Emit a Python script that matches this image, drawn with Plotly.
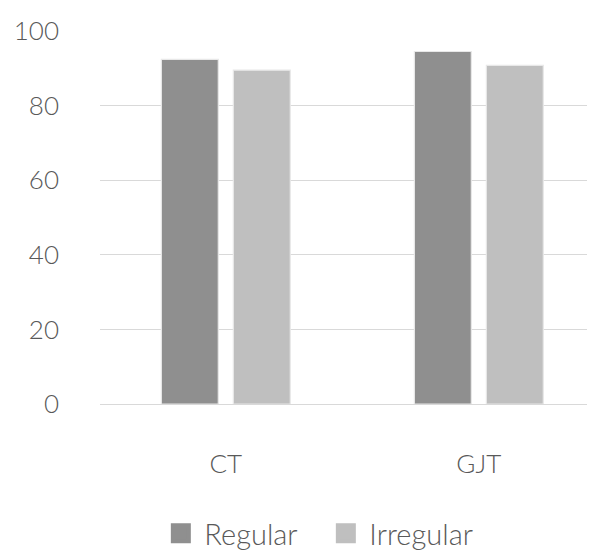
import plotly.graph_objects as go

categories = ["CT", "GJT"]
regular = [92.4, 94.5]
irregular = [89.5, 90.8]
y_ticks = [0, 20, 40, 60, 80, 100]

REG_COLOR = "#8F8F8F"
IRR_COLOR = "#BFBFBF"

fig = go.Figure()
fig.add_trace(go.Bar(
    name="Regular", x=categories, y=regular, showlegend=False,
    marker=dict(color=REG_COLOR, line=dict(color="#E8E8E8", width=1.2)),
    width=0.225, offset=-0.2545,
))
fig.add_trace(go.Bar(
    name="Irregular", x=categories, y=irregular, showlegend=False,
    marker=dict(color=IRR_COLOR, line=dict(color="#E8E8E8", width=1.2)),
    width=0.225, offset=0.030,
))
# legend entries with larger square swatches
for name, col in [("Regular", REG_COLOR), ("Irregular", IRR_COLOR)]:
    fig.add_trace(go.Scatter(
        name=name, x=[None], y=[None], mode="markers",
        marker=dict(symbol="square", size=16, color=col, line=dict(color=col, width=4)),
        showlegend=True,
    ))

font_family = "Lato, 'Noto Sans', sans-serif"
fig.update_layout(
    width=595, height=551,
    margin=dict(l=92, r=0, t=23, b=153),
    plot_bgcolor="white", paper_bgcolor="white",
    font=dict(family=font_family, size=26, color="#595959", weight=300),
    barmode="overlay",
    showlegend=True,
    legend=dict(orientation="h", x=0.114, xanchor="left", y=-0.347, yanchor="middle",
                font=dict(size=29, color="#595959", weight=300), itemwidth=37,
                entrywidth=113, entrywidthmode="pixels",
                itemsizing="trace", bgcolor="rgba(0,0,0,0)"),
)
fig.update_xaxes(
    type="category", range=[-0.497, 1.491],
    showgrid=False, showline=False, zeroline=False, ticks="",
    ticklabelstandoff=42,
    tickfont=dict(size=26, color="#595959", weight=300),
)
fig.update_yaxes(
    range=[0, 100], tickvals=y_ticks,
    showgrid=True, gridcolor="#D9D9D9", gridwidth=1.3,
    zeroline=True, zerolinecolor="#D9D9D9", zerolinewidth=1.3,
    showline=False, ticks="",
    ticklabelstandoff=40,
    tickfont=dict(size=26, color="#595959", weight=300),
)

fig.write_html(
    "out.html",
    post_script="document.documentElement.style.overflow='hidden';document.body.style.overflow='hidden';",
)
